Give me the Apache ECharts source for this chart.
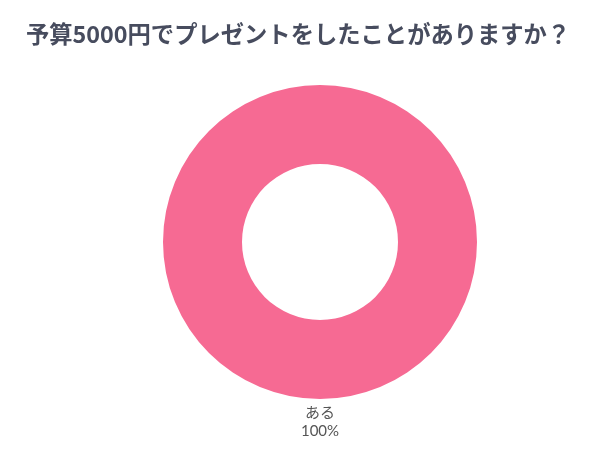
<!DOCTYPE html>
<html>
<head>
<meta charset="utf-8">
<script src="https://cdn.jsdelivr.net/npm/echarts@6/dist/echarts.min.js"></script>
<style>
html,body{margin:0;padding:0;background:#fff;}
#main{width:602px;height:451px;}
</style>
</head>
<body>
<div id="main"></div>
<script>
const titleText = '予算5000円でプレゼントをしたことがありますか？';
const categories = ['ある'];
const values = [100];
const colors = ['#f66a93'];

const chart = echarts.init(document.getElementById('main'));
chart.setOption({
  backgroundColor: '#fff',
  animation: false,
  title: {
    text: titleText,
    left: 21,
    top: 18,
    textStyle: {
      fontFamily: '"Noto Sans CJK JP", sans-serif',
      fontWeight: 'bold',
      fontSize: 23.3,
      color: '#474c5e'
    }
  },
  series: [{
    type: 'pie',
    center: [320, 242],
    radius: [78, 157],
    startAngle: 90,
    data: categories.map((c, i) => ({name: c, value: values[i], itemStyle: {color: colors[i]}})),
    label: {
      show: true,
      position: 'outside',
      formatter: '{b}\n{d}%',
      fontFamily: 'Lato, "Noto Sans CJK JP", sans-serif',
      fontSize: 15,
      lineHeight: 18,
      color: '#555'
    },
    labelLine: {show: false},
    labelLayout: function (p) {
      return {
        x: p.rect.x + p.rect.width / 2,
        y: p.rect.y + p.rect.height + 5,
        align: 'center',
        verticalAlign: 'top'
      };
    },
    emphasis: {disabled: true}
  }]
});
</script>
</body>
</html>
